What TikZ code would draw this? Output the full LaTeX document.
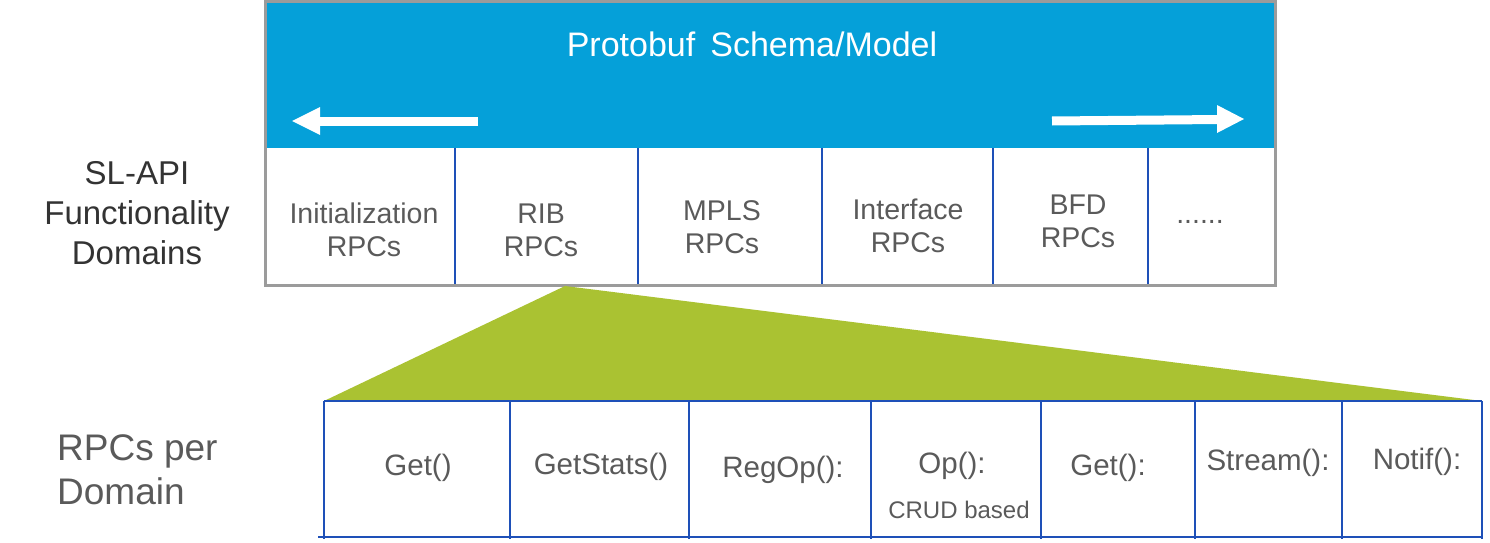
\documentclass[tikz,border=0pt]{standalone}
\usepackage{fontspec}
\setmainfont{Liberation Sans}
\definecolor{ciscoblue}{HTML}{05A0D9}
\definecolor{framegray}{HTML}{9B9B9B}
\definecolor{linkblue}{HTML}{1E50B8}
\definecolor{leafgreen}{HTML}{AAC232}
\definecolor{txtgray}{HTML}{5A5A5A}
\definecolor{lbldark}{HTML}{333333}
\begin{document}
\begin{tikzpicture}[x=1pt,y=-1pt,
  celltext/.style={text=txtgray, font=\fontsize{28.5}{33}\selectfont, align=center, inner sep=0pt},
  rpctext/.style={text=txtgray, font=\fontsize{29.5}{33}\selectfont, align=center, inner sep=0pt},
  divider/.style={draw=linkblue, line width=2pt},
  whitearrow/.style={draw=white, line width=9pt},
  arrowhead/.style={fill=white}]
\useasboundingbox (0,0) rectangle (1490,543);
% top box
\fill[ciscoblue] (265,2) rectangle (1275,148);
\foreach \x in {455,638,822,993,1148}{\draw[divider] (\x,148) -- (\x,284);}
\draw[framegray, line width=3pt] (265,2) rectangle (1275,285);
\node[text=white, font=\fontsize{34}{40}\selectfont, inner sep=0pt] (title) at (752,44) {Protobuf\, Schema/Model};
% arrows
\coordinate (la1) at (478,121);
\coordinate (la2) at (318,121);
\draw[whitearrow] (la1) -- (la2);
\fill[arrowhead] (292,121) -- (320,107) -- (320,135) -- cycle;
\coordinate (ra1) at (1052,121);
\coordinate (ra2) at (1220,119.5);
\draw[whitearrow] (ra1) -- (ra2);
\fill[arrowhead] (1244,119) -- (1217,105) -- (1217,133) -- cycle;
% top cells
\node[celltext] (c1) at (364,230) {Initialization\\RPCs};
\node[celltext] (c2) at (541,230) {RIB\\RPCs};
\node[celltext] (c3) at (722,227) {MPLS\\RPCs};
\node[celltext] (c4) at (908,226) {Interface\\RPCs};
\node[celltext] (c5) at (1078,221) {BFD\\RPCs};
\node[celltext] (c6) at (1200,222) {......};
% left labels
\node[text=lbldark, font=\fontsize{33}{40}\selectfont, align=center, inner sep=0pt] (sl) at (137,213) {SL-API\\Functionality\\Domains};
\node[text=txtgray, font=\fontsize{37}{44}\selectfont, align=left, inner sep=0pt, anchor=west] (rpd) at (57,470) {RPCs per\\Domain};
% green wedge
\fill[leafgreen] (565,286) -- (324,401) -- (1482,401) -- cycle;
% bottom row
\draw[divider] (324,401) -- (1482,401);
\draw[divider] (318,537) -- (1482,537);
\foreach \x in {324,510,689,871,1041,1195,1342,1482}{\draw[divider] (\x,401) -- (\x,539);}
\node[rpctext] (b1) at (418,468) {Get()};
\node[rpctext] (b2) at (601,467) {GetStats()};
\node[rpctext] (b3) at (783,470) {RegOp():};
\node[rpctext] (b4) at (952,466) {Op():};
\node[text=txtgray, font=\fontsize{24}{28}\selectfont, inner sep=0pt] (b4s) at (959,510) {CRUD based};
\node[rpctext] (b5) at (1108,468) {Get():};
\node[rpctext] (b6) at (1268,463) {Stream():};
\node[rpctext] (b7) at (1417,462) {Notif():};
\end{tikzpicture}
\end{document}
